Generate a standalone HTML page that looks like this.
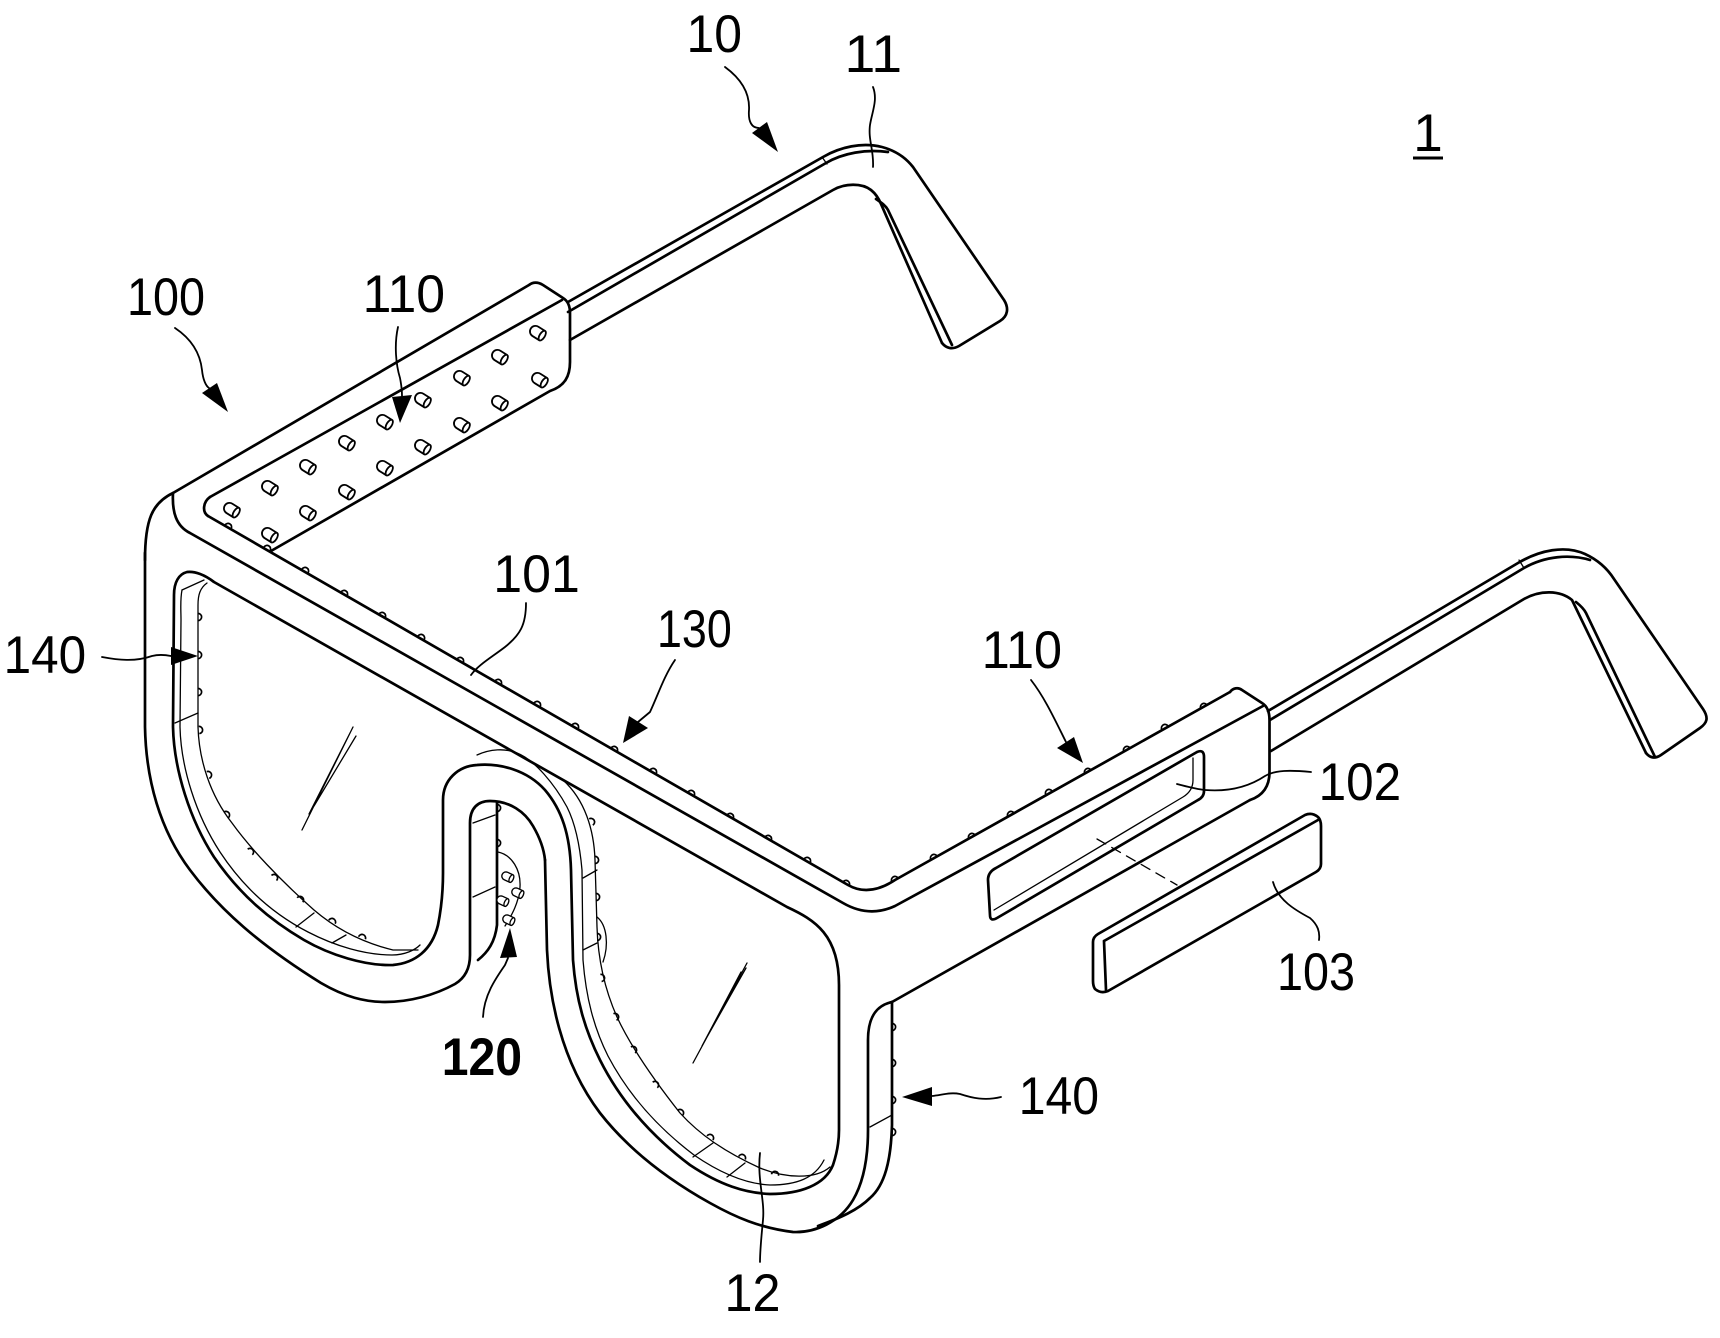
<!DOCTYPE html>
<html>
<head>
<meta charset="utf-8">
<style>
  html,body{margin:0;padding:0;background:#fff;}
  svg{display:block;}
  .m{fill:none;stroke:#000;stroke-width:2.7;stroke-linecap:round;stroke-linejoin:round;}
  .t{fill:none;stroke:#000;stroke-width:1.3;stroke-linecap:round;stroke-linejoin:round;}
  .l{font-family:"Liberation Sans",Arial,sans-serif;font-size:53px;fill:#000;}
</style>
</head>
<body>
<svg width="1720" height="1338" viewBox="0 0 1720 1338" xmlns="http://www.w3.org/2000/svg">
<defs>
  <g id="led">
    <path d="M5,-5.5 L-3,-5.5 A5.5,5.5 0 0 0 -3,5.5 L5,5.5" fill="#fff" stroke="#000" stroke-width="1.8"/>
    <ellipse cx="5" cy="0" rx="2.6" ry="5.5" fill="#fff" stroke="#000" stroke-width="1.8"/>
  </g>
  <path id="bump" d="M-3.6,0 A3.6,3.6 0 0 1 3.6,0" fill="#fff" stroke="#000" stroke-width="1.7"/>
</defs>

<!-- ===== Left temple (10 / 11) ===== -->
<path class="m" d="M568,302 L823,157 C840,147 862,142 882,147 C897,151 906,158 913,167 L1004,300 C1009,308 1008,316 1000,321 L959,346 C952,350 946,348 942,343"/>
<path class="m" d="M568,312 L826,163 C843,153 866,149 888,152"/>
<path class="m" d="M570,340 L833,190 C845,183 862,183 871,190 C876,194 879,199 881,204 L942,343"/>
<path class="m" d="M876,199 C882,203 886,206 888,210 L952,345"/>
<path class="t" d="M822,157 L827,164"/>

<!-- ===== Right temple ===== -->
<path class="m" d="M1268,711 L1518,563 C1540,550 1565,545 1585,554 C1598,560 1607,568 1614,579 L1703,709 C1709,718 1707,723 1700,728 L1661,755 C1655,759 1650,758 1646,753"/>
<path class="m" d="M1270,720 L1524,568 C1545,556 1570,554 1590,560"/>
<path class="m" d="M1271,751 L1524,599 C1540,590 1560,590 1572,600 L1646,753"/>
<path class="m" d="M1576,602 C1581,606 1584,609 1586,613 L1655,757"/>
<path class="t" d="M1519,560 L1524,568"/>

<!-- ===== Bumps (drawn before lines) ===== -->
<g>
  <use href="#bump" transform="translate(228,527) rotate(30)"/>
  <use href="#bump" transform="translate(267,549) rotate(30)"/>
  <use href="#bump" transform="translate(305,571) rotate(30)"/>
  <use href="#bump" transform="translate(344,594) rotate(30)"/>
  <use href="#bump" transform="translate(382,616) rotate(30)"/>
  <use href="#bump" transform="translate(421,638) rotate(30)"/>
  <use href="#bump" transform="translate(460,661) rotate(30)"/>
  <use href="#bump" transform="translate(498,683) rotate(30)"/>
  <use href="#bump" transform="translate(537,705) rotate(30)"/>
  <use href="#bump" transform="translate(575,727) rotate(30)"/>
  <use href="#bump" transform="translate(614,750) rotate(30)"/>
  <use href="#bump" transform="translate(653,772) rotate(30)"/>
  <use href="#bump" transform="translate(691,794) rotate(30)"/>
  <use href="#bump" transform="translate(730,817) rotate(30)"/>
  <use href="#bump" transform="translate(768,839) rotate(30)"/>
  <use href="#bump" transform="translate(807,861) rotate(30)"/>
  <use href="#bump" transform="translate(846,884) rotate(28)"/>
  <use href="#bump" transform="translate(895,880) rotate(-29)"/>
  <use href="#bump" transform="translate(934,858) rotate(-29)"/>
  <use href="#bump" transform="translate(972,837) rotate(-29)"/>
  <use href="#bump" transform="translate(1011,815) rotate(-29)"/>
  <use href="#bump" transform="translate(1049,793) rotate(-29)"/>
  <use href="#bump" transform="translate(1088,772) rotate(-29)"/>
  <use href="#bump" transform="translate(1127,750) rotate(-29)"/>
  <use href="#bump" transform="translate(1165,728) rotate(-29)"/>
  <use href="#bump" transform="translate(1204,707) rotate(-29)"/>
  <use href="#bump" transform="translate(198,617) rotate(90)"/>
  <use href="#bump" transform="translate(198,655) rotate(90)"/>
  <use href="#bump" transform="translate(198,692) rotate(90)"/>
  <use href="#bump" transform="translate(199,730) rotate(85)"/>
  <use href="#bump" transform="translate(208,775) rotate(70)"/>
  <use href="#bump" transform="translate(226,815) rotate(58)"/>
  <use href="#bump" transform="translate(250,852) rotate(50)"/>
  <use href="#bump" transform="translate(274,878) rotate(45)"/>
  <use href="#bump" transform="translate(300,900) rotate(38)"/>
  <use href="#bump" transform="translate(332,922) rotate(28)"/>
  <use href="#bump" transform="translate(362,938) rotate(20)"/>
  <use href="#bump" transform="translate(591,822) rotate(60)"/>
  <use href="#bump" transform="translate(595,860) rotate(88)"/>
  <use href="#bump" transform="translate(596,897) rotate(90)"/>
  <use href="#bump" transform="translate(597,937) rotate(90)"/>
  <use href="#bump" transform="translate(601,978) rotate(80)"/>
  <use href="#bump" transform="translate(615,1017) rotate(65)"/>
  <use href="#bump" transform="translate(633,1050) rotate(55)"/>
  <use href="#bump" transform="translate(655,1085) rotate(50)"/>
  <use href="#bump" transform="translate(680,1113) rotate(45)"/>
  <use href="#bump" transform="translate(710,1138) rotate(35)"/>
  <use href="#bump" transform="translate(742,1158) rotate(25)"/>
  <use href="#bump" transform="translate(775,1175) rotate(12)"/>
  <use href="#bump" transform="translate(892,1027) rotate(90)"/>
  <use href="#bump" transform="translate(892,1063) rotate(90)"/>
  <use href="#bump" transform="translate(892,1100) rotate(90)"/>
  <use href="#bump" transform="translate(892,1132) rotate(90)"/>
  <use href="#bump" transform="translate(497,843) rotate(90)"/>
  <use href="#bump" transform="translate(497,808) rotate(90)"/>
</g>

<!-- ===== Left arm / hinge block ===== -->
<path class="m" d="M145,560 C145,520 152,503 173,493 L529,285 C533,282 538,282 543,285 L563,298 C568,301 570,306 570,313 L570,362 C570,376 565,386 550,391 L271,551"/>
<path class="m" d="M210,497 L562,300"/>
<path class="m" d="M210,497 C203,502 202,512 208,516"/>

<path class="m" d="M208,516 L848,885 Q869,897 895,880 L1230,692"/>
<path class="m" d="M173,493 C172,512 176,526 190,533 L843,903 Q869,918 895,906 L1263,706"/>

<path class="m" d="M1230,692 C1233,688 1238,687 1242,690 L1262,703 C1267,706 1269.5,712 1269.5,720 L1269.5,772 C1269.5,787 1262,796 1250,800"/>

<!-- ===== Left lens + arch + right lens opening (b) ===== -->
<path class="m" d="M839,985 C839,935 815,920 787,907 L214,582 C205,575 195,571 187,572 C179,574 174,582 174,595 L173,727 C174,770 190,820 214,857 C240,895 270,920 304,940 C330,955 365,966 393,965 C415,963 432,950 438,925 C442,905 443,890 443,873 L443,800 C443,780 458,766 477,765 C500,763 527,770 545,790 C562,810 570,835 571,870 L573,960 C576,1000 585,1030 600,1060 C620,1100 650,1135 690,1165 C720,1185 745,1193 770,1194 C800,1194 825,1185 833,1165 C838,1150 839,1140 839,1130 L839,985"/>

<!-- outer rim around right lens -->
<path class="m" d="M545,860 L547,950 C549,995 560,1060 600,1113 C625,1145 660,1175 710,1203 C735,1217 760,1228 793,1232 C815,1233 840,1222 853,1200 C863,1183 868,1160 868,1130 L868,1040 C868,1015 878,1005 892,1002 L1250,800"/>

<!-- outer left edge (a) into nose inner U -->
<path class="m" d="M145,553 L145,727 C146,780 160,830 190,870 C220,910 260,945 321,983 C345,997 365,1002 385,1002 C410,1002 435,995 455,984 C465,978 470,968 470,955 L470,823 C470,808 478,801 490,801 C510,801 525,812 533,826 C540,838 544,850 545,860"/>
<path class="m" d="M497,803 L497,925 C495,942 488,952 478,960"/>
<path class="t" d="M473,823 L495,815 M473,897 L495,887"/>
<path class="t" d="M498,852 C512,855 521,870 520,887 C519,902 512,915 505,926"/>

<!-- thin line hugging arch / inside right lens -->
<path class="t" d="M477,755 C490,749 505,748 517,753 C535,760 555,785 567,807 C576,825 580,847 582,870 L583,960 C586,998 594,1028 608,1056 C628,1094 657,1127 694,1155 C723,1175 748,1184 770,1185 C797,1185 815,1178 824,1160"/>
<path class="t" d="M563,780 C585,800 594,830 595,860 L597,927 C598,960 605,990 617,1017 C630,1045 650,1075 680,1113 C700,1135 725,1152 760,1168 C785,1178 815,1180 830,1167"/>
<path class="t" d="M597,917 C607,925 609,945 603,962"/>
<path class="t" d="M583,878 L597,870 M583,950 L597,943 M693,1157 L713,1143 M727,1177 L745,1163"/>

<!-- left lens inner lines -->
<path class="t" d="M182,590 C180,600 181,610 181,620 L180,727 C181,768 196,815 220,852 C245,890 275,915 308,932 C335,946 365,955 392,955 C405,955 415,950 420,945"/>
<path class="t" d="M207,583 C200,588 198,595 198,605 L198,727 C199,760 210,795 232,823 C250,848 280,880 314,910 C335,928 360,942 393,950 L418,950"/>
<path class="t" d="M182,590 L204,580 M175,723 L198,713 M296,927 L314,913 M332,943 L346,935"/>

<!-- right side face -->
<path class="m" d="M892,1002 L892,1125 C891,1160 885,1185 870,1198 C858,1210 840,1218 818,1226"/>
<path class="t" d="M870,1127 L892,1115"/>

<!-- lens glare hatching -->
<path class="t" d="M302,830 L353,727 M309,814 L350,733 M314,806 L356,736"/>
<path class="t" d="M693,1063 L747,963 M702,1046 L741,972 M707,1037 L746,968"/>

<!-- slot 102 -->
<path class="m" d="M988,880 Q988,872 996,868 L1197,752 Q1204,749 1204,757 L1204,791 Q1204,797 1198,800 L997,918 Q990,922 990,915 Z"/>
<path class="t" d="M994,910 L1183,797 Q1193,791 1193,780 L1193,758"/>

<!-- bar 103 -->
<path class="m" d="M1098,934 L1305,815 Q1312,812 1318,817 Q1321,820 1321,826 L1321,864 Q1321,869 1316,872 L1108,991 Q1101,994 1095,989 Q1093,986 1093,981 L1093,942 Q1093,937 1098,934 Z"/>
<path class="m" d="M1104,941 L1106,990 M1104,941 L1318,820"/>
<path class="t" d="M1097,839 L1177,885" stroke-dasharray="10 7"/>

<!-- ===== LEDs ===== -->
<g>
  <use href="#led" transform="translate(538,333) rotate(32)"/>
  <use href="#led" transform="translate(500,357) rotate(32)"/>
  <use href="#led" transform="translate(462,378) rotate(32)"/>
  <use href="#led" transform="translate(423,400) rotate(32)"/>
  <use href="#led" transform="translate(385,422) rotate(32)"/>
  <use href="#led" transform="translate(347,443) rotate(32)"/>
  <use href="#led" transform="translate(308,467) rotate(32)"/>
  <use href="#led" transform="translate(270,488) rotate(32)"/>
  <use href="#led" transform="translate(232,510) rotate(32)"/>
  <use href="#led" transform="translate(540,380) rotate(32)"/>
  <use href="#led" transform="translate(500,403) rotate(32)"/>
  <use href="#led" transform="translate(462,425) rotate(32)"/>
  <use href="#led" transform="translate(423,447) rotate(32)"/>
  <use href="#led" transform="translate(385,468) rotate(32)"/>
  <use href="#led" transform="translate(347,492) rotate(32)"/>
  <use href="#led" transform="translate(308,513) rotate(32)"/>
  <use href="#led" transform="translate(270,535) rotate(32)"/>
  <use href="#led" transform="translate(508,877) rotate(25) scale(0.75)"/>
  <use href="#led" transform="translate(518,893) rotate(25) scale(0.75)"/>
  <use href="#led" transform="translate(503,901) rotate(25) scale(0.75)"/>
  <use href="#led" transform="translate(509,920) rotate(25) scale(0.75)"/>
</g>

<!-- ===== Leaders & arrows ===== -->
<g class="t" style="stroke-width:1.8">
  <path d="M725,67 C740,78 750,92 749,110 C748,122 752,128 759,128"/>
  <path d="M175,328 C190,338 200,352 202,370 C203,380 206,386 209,388"/>
  <path d="M398,327 C394,345 396,365 400,378 C402,388 402,392 402,396"/>
  <path d="M675,660 C664,676 658,695 650,712 L638,722"/>
  <path d="M1031,680 C1045,698 1055,720 1066,742"/>
  <path d="M102,657 C118,660 135,662 152,656 C160,654 166,655 171,656"/>
  <path d="M1001,1097 C985,1101 972,1098 960,1094 C950,1092 942,1095 932,1096"/>
  <path d="M483,1017 C484,995 496,978 505,965 L508,958"/>
  <path d="M873,87 C878,100 872,112 870,125 C868,140 874,150 873,167"/>
  <path d="M526,603 C526,625 520,635 505,647 C492,657 478,665 471,675"/>
  <path d="M760,1153 C757,1180 765,1200 763,1220 C761,1240 760,1250 760,1262"/>
  <path d="M1311,772 C1290,770 1275,770 1265,776 C1250,786 1230,792 1205,790 C1195,789 1185,786 1177,784"/>
  <path d="M1273,882 C1278,900 1295,910 1310,918 C1318,925 1320,932 1319,940"/>
</g>
<g fill="#000">
  <polygon points="778,152 752,133 767,122"/>
  <polygon points="228,412 202,393 217,383"/>
  <polygon points="400,423 392,397 412,395"/>
  <polygon points="623,743 629,716 648,728"/>
  <polygon points="1083,763 1057,748 1074,737"/>
  <polygon points="198,656 171,647 171,665"/>
  <polygon points="902,1097 932,1087 932,1106"/>
  <polygon points="510,928 500,958 517,957"/>
</g>

<!-- ===== Labels ===== -->
<text class="l" x="1428" y="151" text-anchor="middle">1</text>
<line x1="1413" y1="158" x2="1443" y2="158" stroke="#000" stroke-width="3"/>
<text class="l" x="686.5" y="52" textLength="55.5" lengthAdjust="spacingAndGlyphs">10</text>
<text class="l" x="844.5" y="72" textLength="57.6" lengthAdjust="spacingAndGlyphs">11</text>
<text class="l" x="127" y="315" textLength="78" lengthAdjust="spacingAndGlyphs">100</text>
<text class="l" x="362.6" y="312" textLength="82.5" lengthAdjust="spacingAndGlyphs">110</text>
<text class="l" x="493.3" y="592" textLength="86.6" lengthAdjust="spacingAndGlyphs">101</text>
<text class="l" x="657" y="647" textLength="74.8" lengthAdjust="spacingAndGlyphs">130</text>
<text class="l" x="981.7" y="668" textLength="80.3" lengthAdjust="spacingAndGlyphs">110</text>
<text class="l" x="1318.6" y="800" textLength="82.5" lengthAdjust="spacingAndGlyphs">102</text>
<text class="l" x="3.6" y="673" textLength="82.5" lengthAdjust="spacingAndGlyphs">140</text>
<text class="l" x="1277" y="990" textLength="78" lengthAdjust="spacingAndGlyphs">103</text>
<text class="l" x="441.7" y="1075" textLength="80.3" lengthAdjust="spacingAndGlyphs" style="font-weight:bold">120</text>
<text class="l" x="1018.7" y="1114" textLength="80.3" lengthAdjust="spacingAndGlyphs">140</text>
<text class="l" x="724.5" y="1311" textLength="56" lengthAdjust="spacingAndGlyphs">12</text>
</svg>
</body>
</html>
